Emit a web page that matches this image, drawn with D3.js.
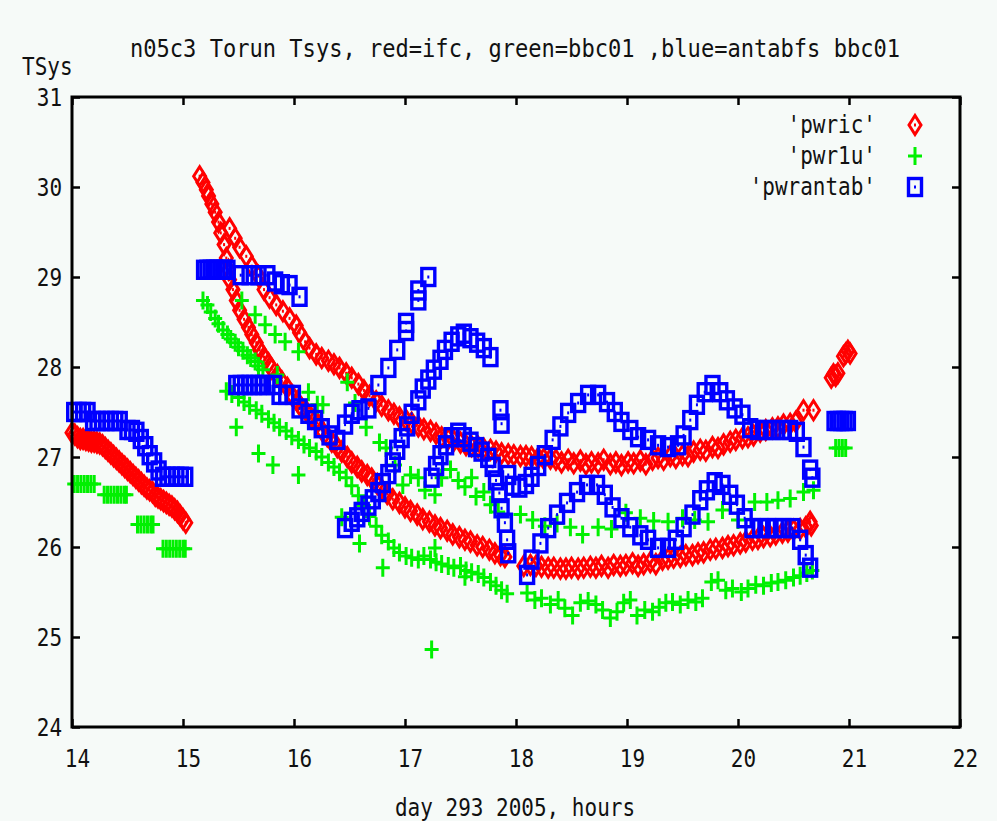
<!DOCTYPE html>
<html>
<head>
<meta charset="utf-8">
<script src="https://cdn.jsdelivr.net/npm/d3@7"></script>
<style>
  html, body { margin: 0; padding: 0; background: #f6faf8; }
  svg { display: block; }
  text { font-family: "DejaVu Sans Mono", "Liberation Mono", monospace; fill: #111; }
</style>
</head>
<body>
<svg id="chart" width="997" height="821"></svg>
<script>
// ---- data: [hour of day 293, Tsys] ----

// 'pwric' (ifc)
const pwricBefore15 = [
  [14.000,27.27],[14.025,27.25],[14.050,27.22],[14.075,27.20],[14.100,27.20],[14.125,27.19],[14.150,27.18],
  [14.175,27.17],[14.200,27.17],[14.225,27.16],[14.250,27.15],[14.275,27.13],[14.300,27.10],[14.325,27.07],
  [14.350,27.04],[14.375,27.01],[14.400,26.98],[14.425,26.95],[14.450,26.92],[14.475,26.89],[14.500,26.86],
  [14.525,26.83],[14.550,26.80],[14.575,26.77],[14.600,26.74],[14.625,26.71],[14.650,26.68],[14.675,26.65],
  [14.700,26.63],[14.725,26.61],[14.750,26.57],[14.775,26.55],[14.800,26.53],[14.825,26.51],[14.850,26.49],
  [14.875,26.47],[14.900,26.45],[14.925,26.42],[14.950,26.39],[14.975,26.35],[15.000,26.31],[15.025,26.27]
];
const pwricLowerTrack = [
  [15.15,30.12],[15.18,30.05],[15.21,29.97],[15.23,29.90],[15.26,29.81],[15.29,29.72],[15.32,29.61],
  [15.34,29.49],[15.37,29.36],[15.39,29.21],[15.41,29.08],[15.42,28.97],[15.45,28.86],[15.48,28.74],
  [15.51,28.63],[15.55,28.53],[15.59,28.44],[15.62,28.36],[15.66,28.27],[15.69,28.19],[15.73,28.11],
  [15.77,28.04],[15.80,27.98],[15.85,27.91],[15.89,27.84],[15.94,27.77],[15.98,27.69],[16.03,27.62],
  [16.07,27.54],[16.12,27.49],[16.16,27.43],[16.21,27.38],[16.25,27.30],[16.30,27.23],[16.34,27.17],
  [16.39,27.11],[16.43,27.06],[16.48,27.00],[16.52,26.94],[16.57,26.89],[16.61,26.84],[16.66,26.80],
  [16.70,26.76],[16.75,26.70],[16.79,26.64],[16.84,26.59],[16.89,26.53],[16.95,26.49],[17.00,26.44],
  [17.05,26.40],[17.11,26.36],[17.16,26.31],[17.22,26.28],[17.27,26.24],[17.32,26.21],[17.38,26.18],
  [17.43,26.14],[17.49,26.11],[17.54,26.08],[17.59,26.06],[17.65,26.02],[17.70,26.00],[17.76,25.97],
  [17.81,25.93],[17.86,25.91],[17.90,25.89]
];
const pwricUpperTrack = [
  [15.42,29.54],[15.47,29.43],[15.51,29.33],[15.57,29.23],[15.62,29.12],[15.68,29.01],[15.73,28.86],
  [15.78,28.77],[15.84,28.69],[15.90,28.62],[15.96,28.54],[16.02,28.46],[16.05,28.38],[16.10,28.28],
  [16.14,28.21],[16.20,28.14],[16.25,28.10],[16.31,28.07],[16.36,28.03],[16.41,27.99],[16.47,27.93],
  [16.52,27.88],[16.58,27.81],[16.63,27.74],[16.68,27.68],[16.74,27.62],[16.79,27.57],[16.85,27.52],
  [16.90,27.48],[16.95,27.44],[17.01,27.41],[17.06,27.38],[17.12,27.34],[17.17,27.31],[17.23,27.29],
  [17.28,27.26],[17.33,27.22],[17.39,27.20],[17.44,27.18],[17.50,27.16],[17.55,27.13],[17.60,27.12],
  [17.66,27.11],[17.71,27.09],[17.77,27.08],[17.82,27.06],[17.87,27.04],[17.93,27.03],[17.98,27.02],
  [18.04,27.01],[18.09,27.01],[18.14,27.00],[18.20,26.99],[18.25,26.98],[18.31,26.98],[18.36,26.97],
  [18.41,26.94],[18.47,26.97],[18.52,26.93],[18.58,26.96],[18.63,26.92],[18.68,26.94],[18.74,26.93],
  [18.79,26.97],[18.85,26.92],[18.90,26.94],[18.95,26.91],[19.01,26.94],[19.06,26.93],[19.12,26.96],
  [19.17,26.92],[19.23,26.97],[19.28,26.99],[19.33,26.97],[19.39,27.01],[19.44,26.99],[19.50,27.02],
  [19.55,27.01],[19.60,27.06],[19.66,27.08],[19.71,27.07],[19.77,27.11],[19.82,27.10],[19.87,27.14],
  [19.93,27.17],[19.98,27.19],[20.04,27.21],[20.09,27.22],[20.14,27.24],[20.20,27.28],[20.25,27.30],
  [20.31,27.32],[20.36,27.33],[20.41,27.36],[20.47,27.37],[20.52,27.39],[20.59,27.52],[20.68,27.52]
];
const pwricAfter18 = [
  [18.07,25.79],[18.13,25.80],[18.18,25.79],[18.23,25.78],[18.29,25.77],[18.34,25.77],[18.40,25.76],
  [18.45,25.76],[18.50,25.77],[18.56,25.76],[18.61,25.77],[18.67,25.78],[18.72,25.77],[18.77,25.79],
  [18.83,25.77],[18.88,25.80],[18.94,25.79],[18.99,25.80],[19.05,25.82],[19.10,25.79],[19.15,25.81],
  [19.21,25.83],[19.26,25.81],[19.32,25.86],[19.37,25.87],[19.42,25.88],[19.48,25.89],[19.53,25.91],
  [19.59,25.91],[19.64,25.93],[19.69,25.94],[19.75,25.97],[19.80,25.98],[19.86,25.99],[19.91,26.01],
  [19.96,26.02],[20.02,26.04],[20.07,26.06],[20.13,26.08],[20.18,26.09],[20.23,26.11],[20.29,26.12],
  [20.34,26.14],[20.40,26.16],[20.45,26.17],[20.50,26.19],[20.56,26.20],[20.61,26.22],[20.65,26.28],
  [20.66,26.24]
];
const pwricAt21 = [
  [20.84,27.88],[20.86,27.92],[20.88,27.90],[20.90,27.93],[20.95,28.12],[20.97,28.15],[20.99,28.18],[21.01,28.15]
];

// 'pwr1u' (bbc01)
const pwr1uBefore15 = [
  [14.02,26.70],[14.05,26.70],[14.08,26.70],[14.11,26.70],[14.14,26.70],[14.17,26.70],[14.20,26.70],
  [14.29,26.58],[14.32,26.58],[14.35,26.58],[14.38,26.58],[14.41,26.58],[14.44,26.58],[14.47,26.58],[14.49,26.58],
  [14.59,26.25],[14.62,26.25],[14.65,26.25],[14.68,26.25],[14.71,26.25],[14.73,26.25],
  [14.82,25.98],[14.85,25.98],[14.88,25.98],[14.91,25.98],[14.94,25.98],[14.97,25.98],[15.00,25.98],[15.02,25.98]
];
const pwr1uFirstTrack = [
  [15.18,28.74],[15.22,28.69],[15.25,28.61],[15.29,28.54],[15.32,28.48],[15.36,28.41],[15.40,28.36],
  [15.43,28.31],[15.47,28.27],[15.50,28.22],[15.54,28.18],[15.58,28.13],[15.61,28.10],[15.65,28.06],
  [15.68,28.01],[15.72,27.97]
];
const pwr1uLowerTrack = [
  [15.39,27.73],[15.44,27.70],[15.50,27.66],[15.55,27.61],[15.60,27.57],[15.66,27.52],[15.71,27.48],
  [15.77,27.42],[15.82,27.38],[15.87,27.33],[15.93,27.29],[15.98,27.23],[16.04,27.19],[16.09,27.14],
  [16.14,27.10],[16.20,27.06],[16.25,27.00],[16.31,26.94],[16.36,26.89],[16.41,26.83],[16.47,26.77],
  [16.52,26.68],[16.58,26.57],[16.63,26.46],[16.68,26.34],[16.74,26.23],[16.79,26.13],[16.85,26.06],
  [16.90,25.99],[16.95,25.94],[17.01,25.90],[17.06,25.88],[17.12,25.86],[17.17,25.90],[17.23,25.86],
  [17.28,25.83],[17.33,25.81],[17.39,25.79],[17.44,25.77],[17.50,25.79],[17.55,25.74],[17.60,25.72],
  [17.66,25.70],[17.71,25.66],[17.77,25.61],[17.82,25.57],[17.87,25.52],[17.92,25.48]
];
const pwr1uScatter = [
  [15.53,28.74],[15.65,28.58],[15.74,28.47],[15.83,28.36],[15.92,28.28],[16.04,28.17],[16.48,27.83],
  [15.85,27.91],[16.13,27.72],[16.21,27.58],
  [15.48,27.33],[15.68,27.04],[15.81,26.91],[16.04,26.80],
  [16.26,27.58],[16.55,27.60],[16.65,27.33],[16.77,27.16],
  [16.83,27.10],[16.91,26.91],[16.98,26.69],[17.05,26.80],[17.12,26.77],[17.18,26.63],[17.27,26.58],
  [17.33,26.77],[17.41,26.86],[17.48,26.74],[17.54,26.67],[17.60,26.77],[17.64,26.56],[17.71,26.61],
  [17.77,26.47],[17.84,26.39],
  [16.43,26.33],[16.59,26.04],[16.80,25.77],[17.27,25.99],[17.54,25.67],[17.24,24.86]
];
const pwr1uUpperAfter18 = [
  [18.04,26.36],[18.15,26.30],[18.26,26.23],[18.37,26.26],[18.49,26.22],[18.60,26.14],[18.74,26.22],
  [18.86,26.20],[18.99,26.38],[19.12,26.32],[19.24,26.29],[19.37,26.28],[19.50,26.32],[19.61,26.30],
  [19.73,26.28],[19.86,26.41],[20.00,26.30],[20.15,26.50],[20.26,26.50],[20.36,26.52],[20.47,26.54],
  [20.59,26.61],[20.68,26.63]
];
const pwr1uLowerAfter18 = [
  [18.10,25.49],[18.17,25.41],[18.23,25.43],[18.31,25.36],[18.38,25.41],[18.44,25.32],[18.51,25.24],
  [18.58,25.38],[18.65,25.40],[18.72,25.36],[18.78,25.30],[18.85,25.21],[18.91,25.28],[18.97,25.38],
  [19.03,25.41],[19.09,25.24],[19.16,25.30],[19.23,25.28],[19.29,25.33],[19.35,25.38],[19.41,25.39],
  [19.48,25.36],[19.55,25.41],[19.62,25.39],[19.68,25.43],[19.76,25.61],[19.82,25.63],[19.89,25.52],
  [19.95,25.54],[20.03,25.50],[20.09,25.54],[20.16,25.58],[20.23,25.57],[20.30,25.60],[20.36,25.61],
  [20.43,25.63],[20.50,25.66],[20.56,25.68],[20.62,25.71],[20.67,25.74]
];
const pwr1uAt21 = [
  [20.88,27.10],[20.91,27.10],[20.94,27.10],[20.97,27.10]
];

// 'pwrantab' (antabfs bbc01)
const pwrantabBefore15 = [
  [14.02,27.50],[14.06,27.50],[14.10,27.50],[14.14,27.50],[14.19,27.40],[14.23,27.40],[14.27,27.40],
  [14.31,27.40],[14.35,27.40],[14.39,27.40],[14.43,27.40],[14.50,27.30],[14.54,27.30],[14.58,27.28],
  [14.62,27.20],[14.66,27.12],[14.70,27.02],[14.74,26.94],[14.78,26.85],[14.82,26.78],[14.86,26.78],
  [14.90,26.78],[14.94,26.78],[14.98,26.78],[15.02,26.78]
];
const pwrantabHigh = [
  [15.19,29.08],[15.22,29.08],[15.25,29.08],[15.28,29.08],[15.31,29.08],[15.34,29.08],[15.37,29.08],
  [15.40,29.08],[15.52,29.02],[15.60,29.02],[15.68,29.02],[15.76,29.02],[15.83,28.95],[15.89,28.92],
  [15.96,28.91],[16.05,28.78]
];
const pwrantabMid = [
  [15.48,27.80],[15.52,27.80],[15.56,27.80],[15.60,27.80],[15.64,27.80],[15.68,27.80],[15.72,27.80],
  [15.76,27.80],[15.82,27.80],[15.87,27.69],[15.93,27.69],[15.99,27.69],[16.05,27.54],[16.13,27.48],
  [16.19,27.41],[16.25,27.32],[16.32,27.24],[16.39,27.19],[16.46,27.36],[16.52,27.48],[16.59,27.52],
  [16.67,27.54],[16.76,27.80],[16.85,27.99],[16.93,28.19],[17.01,28.40],[17.01,28.49],[17.12,28.74],
  [17.12,28.85],[17.21,29.00]
];
const pwrantabRise = [
  [16.46,26.21],[16.52,26.28],[16.57,26.33],[16.61,26.39],[16.67,26.46],[16.71,26.53],[16.76,26.61],
  [16.80,26.71],[16.85,26.81],[16.89,26.94],[16.93,27.08],[16.97,27.21],[17.02,27.34],[17.06,27.48],
  [17.12,27.63],[17.16,27.76],[17.21,27.86],[17.26,27.97],[17.32,28.08],[17.36,28.19],[17.42,28.28],
  [17.48,28.34],[17.53,28.37],[17.59,28.32],[17.65,28.27],[17.71,28.21],[17.77,28.11],[17.86,27.52],
  [17.87,27.37]
];
const pwrantabLowHump = [
  [17.24,26.77],[17.28,26.90],[17.32,27.02],[17.37,27.13],[17.42,27.22],[17.48,27.27],[17.53,27.22],
  [17.59,27.17],[17.64,27.11],[17.69,27.06],[17.75,26.99],[17.79,26.89],[17.82,26.74],[17.85,26.60],
  [17.87,26.43],[17.90,26.27],[17.92,26.08],[17.93,25.93]
];
const pwrantabUpperAfter18 = [
  [17.93,26.80],[17.97,26.68],[18.03,26.66],[18.09,26.70],[18.14,26.78],[18.20,26.90],[18.26,27.02],
  [18.33,27.19],[18.40,27.34],[18.47,27.49],[18.56,27.60],[18.65,27.69],[18.74,27.69],[18.82,27.61],
  [18.89,27.50],[18.95,27.39],[19.03,27.30],[19.10,27.22],[19.19,27.19],[19.28,27.13],[19.37,27.11],
  [19.46,27.13],[19.51,27.24],[19.57,27.41],[19.63,27.58],[19.70,27.72],[19.77,27.80],[19.84,27.72],
  [19.90,27.63],[19.97,27.54],[20.04,27.47],[20.11,27.32],[20.18,27.30],[20.25,27.30],[20.32,27.30],
  [20.40,27.30],[20.47,27.30],[20.53,27.28],[20.59,27.11],[20.65,26.86],[20.67,26.77]
];
const pwrantabLowerAfter18 = [
  [18.10,25.69],[18.14,25.86],[18.22,26.04],[18.29,26.21],[18.37,26.36],[18.46,26.49],[18.55,26.61],
  [18.64,26.69],[18.73,26.69],[18.80,26.58],[18.87,26.44],[18.95,26.32],[19.03,26.22],[19.12,26.13],
  [19.19,26.08],[19.28,25.99],[19.37,25.99],[19.44,26.08],[19.51,26.22],[19.59,26.36],[19.66,26.52],
  [19.72,26.63],[19.79,26.72],[19.86,26.69],[19.93,26.58],[19.99,26.47],[20.06,26.32],[20.13,26.21],
  [20.20,26.21],[20.27,26.21],[20.34,26.21],[20.41,26.21],[20.49,26.21],[20.56,26.08],[20.61,25.91],
  [20.65,25.77]
];
const pwrantabAt21 = [
  [20.87,27.40],[20.90,27.40],[20.93,27.40],[20.96,27.40],[20.99,27.40]
];

const hourTicks = [14, 15, 16, 17, 18, 19, 20, 21, 22];
const tsysTicks = [24, 25, 26, 27, 28, 29, 30, 31];
const seriesNames = ["'pwric'", "'pwr1u'", "'pwrantab'"];
const seriesColors = ["#ff0000", "#00f000", "#0000ff"];
const seriesSymbols = ["diamond", "plus", "box"];
const titleText = "n05c3 Torun Tsys, red=ifc, green=bbc01 ,blue=antabfs bbc01";
const xTitle = "day 293 2005, hours";
const yTitle = "TSys";

const seriesData = [
  [].concat(pwricBefore15, pwricLowerTrack, pwricUpperTrack, pwricAfter18, pwricAt21),
  [].concat(pwr1uBefore15, pwr1uFirstTrack, pwr1uLowerTrack, pwr1uScatter, pwr1uUpperAfter18, pwr1uLowerAfter18, pwr1uAt21),
  [].concat(pwrantabBefore15, pwrantabHigh, pwrantabMid, pwrantabRise, pwrantabLowHump, pwrantabUpperAfter18, pwrantabLowerAfter18, pwrantabAt21)
];

// ---- layout ----
const svg = d3.select("#chart");
const plot = { left: 72, right: 960, top: 97, bottom: 727 };
const x = d3.scaleLinear().domain([14, 22]).range([plot.left, plot.right]);
const y = d3.scaleLinear().domain([24, 31]).range([plot.bottom, plot.top]);
const FONT = 21;
const STRETCH = 1.18;   // tall, narrow glyphs

svg.append("rect").attr("width", 997).attr("height", 821).attr("fill", "#f6faf8");

// marker shapes
function drawSymbol(g, kind, color) {
  if (kind === "diamond") {
    g.append("path").attr("d", "M0,-9.5L6,0L0,9.5L-6,0Z")
      .attr("fill", "none").attr("stroke", color).attr("stroke-width", 3);
    g.append("rect").attr("x", -1).attr("y", -1.5).attr("width", 2).attr("height", 3).attr("fill", color);
  } else if (kind === "plus") {
    g.append("path").attr("d", "M-7,0H7M0,-9V9")
      .attr("fill", "none").attr("stroke", color).attr("stroke-width", 3);
  } else {
    g.append("rect").attr("x", -6.5).attr("y", -8.5).attr("width", 13).attr("height", 17)
      .attr("fill", "none").attr("stroke", color).attr("stroke-width", 3.4);
    g.append("rect").attr("x", -1).attr("y", -1.5).attr("width", 2).attr("height", 3).attr("fill", color);
  }
}

// points
const marks = svg.append("g");
seriesData.forEach((pts, i) => {
  const layer = marks.append("g");
  layer.selectAll("g").data(pts).join("g")
    .attr("transform", d => `translate(${x(d[0])},${y(d[1])})`)
    .each(function () { drawSymbol(d3.select(this), seriesSymbols[i], seriesColors[i]); });
});

// axes: ticks point inward on all four sides
function styleAxis(g) {
  g.select(".domain").remove();
  g.selectAll(".tick line").attr("stroke", "#000").attr("stroke-width", 2.5);
  g.selectAll("text").attr("font-family", "DejaVu Sans Mono, monospace")
    .attr("font-size", FONT).attr("fill", "#111");
}
const bottomAxis = svg.append("g").attr("transform", `translate(0,${plot.bottom})`)
  .call(d3.axisBottom(x).tickValues(hourTicks).tickFormat(d3.format("d")).tickSize(-8).tickPadding(25))
  .call(styleAxis);
bottomAxis.selectAll(".tick text")
  .attr("x", 5).attr("y", 0).attr("dy", null)
  .attr("transform", `translate(0,${40}) scale(1,${STRETCH})`);
svg.append("g").attr("transform", `translate(0,${plot.top})`)
  .call(d3.axisTop(x).tickValues(hourTicks).tickFormat("").tickSize(-8))
  .call(styleAxis);
const leftAxis = svg.append("g").attr("transform", `translate(${plot.left},0)`)
  .call(d3.axisLeft(y).tickValues(tsysTicks).tickFormat(d3.format("d")).tickSize(-8).tickPadding(10))
  .call(styleAxis);
leftAxis.selectAll(".tick text")
  .attr("y", 0).attr("dy", null)
  .attr("transform", `translate(0,${8}) scale(1,${STRETCH})`);
svg.append("g").attr("transform", `translate(${plot.right},0)`)
  .call(d3.axisRight(y).tickValues(tsysTicks).tickFormat("").tickSize(-8))
  .call(styleAxis);

// frame
svg.append("rect")
  .attr("x", plot.left).attr("y", plot.top)
  .attr("width", plot.right - plot.left).attr("height", plot.bottom - plot.top)
  .attr("fill", "none").attr("stroke", "#000").attr("stroke-width", 3);

// text placed at (px, baseline) with vertical stretch
function label(px, py, str, anchor, len) {
  const t = svg.append("text")
    .attr("transform", `translate(${px},${py}) scale(1,${STRETCH})`)
    .attr("text-anchor", anchor).attr("font-size", FONT).text(str);
  if (len) t.attr("textLength", len).attr("lengthAdjust", "spacingAndGlyphs");
  return t;
}
label(515, 57, titleText, "middle", 770);
label(22, 75, yTitle, "start");
label(515, 816, xTitle, "middle");

// legend
seriesNames.forEach((name, i) => {
  const ly = 125 + i * 31;
  label(876, ly + 8, name, "end");
  const g = svg.append("g").attr("transform", `translate(915,${ly})`);
  drawSymbol(g, seriesSymbols[i], seriesColors[i]);
});
</script>
</body>
</html>
